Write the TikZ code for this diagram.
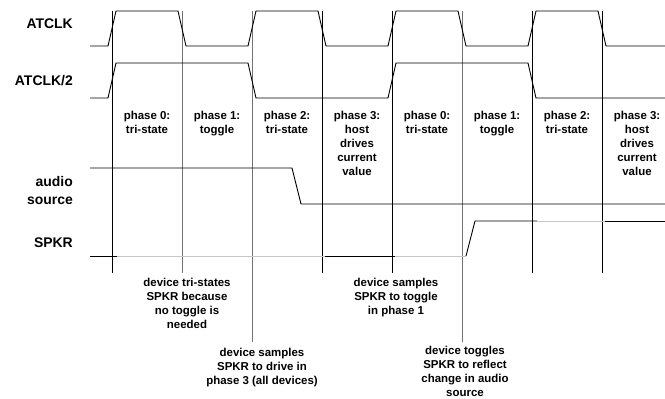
\documentclass[tikz,border=0pt]{standalone}
\usepackage{fontspec}
\setmainfont{Liberation Sans}
\begin{document}
\begin{tikzpicture}[x=1bp,y=-1bp,
  sig/.style={line width=0.9bp,draw=black},
  tri/.style={line width=0.9bp,draw=black!22},
  vblack/.style={line width=0.9bp,draw=black},
  vgray/.style={line width=0.9bp,draw=black!55},
  lbl/.style={font=\fontsize{14}{18}\selectfont\bfseries,anchor=base east,inner sep=0pt,align=right},
  ph/.style={font=\fontsize{11.5}{14}\selectfont\bfseries,anchor=base,inner sep=0pt,align=center}]
\useasboundingbox (0,0) rectangle (665,398);
% vertical phase boundaries
\foreach \x in {112,322,392,532,602} \draw[vblack] (\x,11) -- (\x,273);
\draw[vgray] (182,11) -- (182,273);
\draw[vgray] (252,11) -- (252,342);
\draw[vgray] (462,11) -- (462,342);
% ATCLK
\draw[sig] (90,46) -- (108,46) -- (116,11) -- (178,11) -- (186,46) -- (248,46) -- (256,11)
  -- (318,11) -- (326,46) -- (388,46) -- (396,11) -- (458,11) -- (466,46) -- (528,46)
  -- (536,11) -- (598,11) -- (606,46) -- (665,46);
% ATCLK/2
\draw[sig] (90,98) -- (108,98) -- (116,63) -- (248,63) -- (256,98) -- (388,98) -- (396,63)
  -- (528,63) -- (536,98) -- (665,98);
% audio source
\draw[sig] (90,168) -- (292,168) -- (301,204) -- (665,204);
% SPKR
\draw[sig] (90,256) -- (117,256);
\draw[tri] (117,256) -- (325,256);
\draw[sig] (325,256) -- (395,256);
\draw[tri] (395,256) -- (466,256);
\draw[sig] (466,256) -- (475,221) -- (537,221);
\draw[tri] (537,221) -- (605,221);
\draw[sig] (605,221) -- (665,221);
% signal labels (anchor = baseline of last line)
\node[lbl] (latclk) at (73,28) {ATCLK};
\node[lbl] (latclk2) at (73,85) {ATCLK/2};
\node[lbl] (laudio) at (73,204) {audio\\source};
\node[lbl] (lspkr) at (73,247) {SPKR};
% phase labels
\node[ph] (p0) at (147,133) {phase 0:\\tri-state};
\node[ph] (p1) at (217,133) {phase 1:\\toggle};
\node[ph] (p2) at (287,133) {phase 2:\\tri-state};
\node[ph] (p3) at (357,175) {phase 3:\\host\\drives\\current\\value};
\node[ph] (p4) at (427,133) {phase 0:\\tri-state};
\node[ph] (p5) at (497,133) {phase 1:\\toggle};
\node[ph] (p6) at (567,133) {phase 2:\\tri-state};
\node[ph] (p7) at (637,175) {phase 3:\\host\\drives\\current\\value};
% notes
\node[ph] (n1) at (187,328) {device tri-states\\SPKR because\\no toggle is\\needed};
\node[ph] (n2) at (262,384) {device samples\\SPKR to drive in\\phase 3 (all devices)};
\node[ph] (n3) at (396,314) {device samples\\SPKR to toggle\\in phase 1};
\node[ph] (n4) at (465,396) {device toggles\\SPKR to reflect\\change in audio\\source};
\end{tikzpicture}
\end{document}
